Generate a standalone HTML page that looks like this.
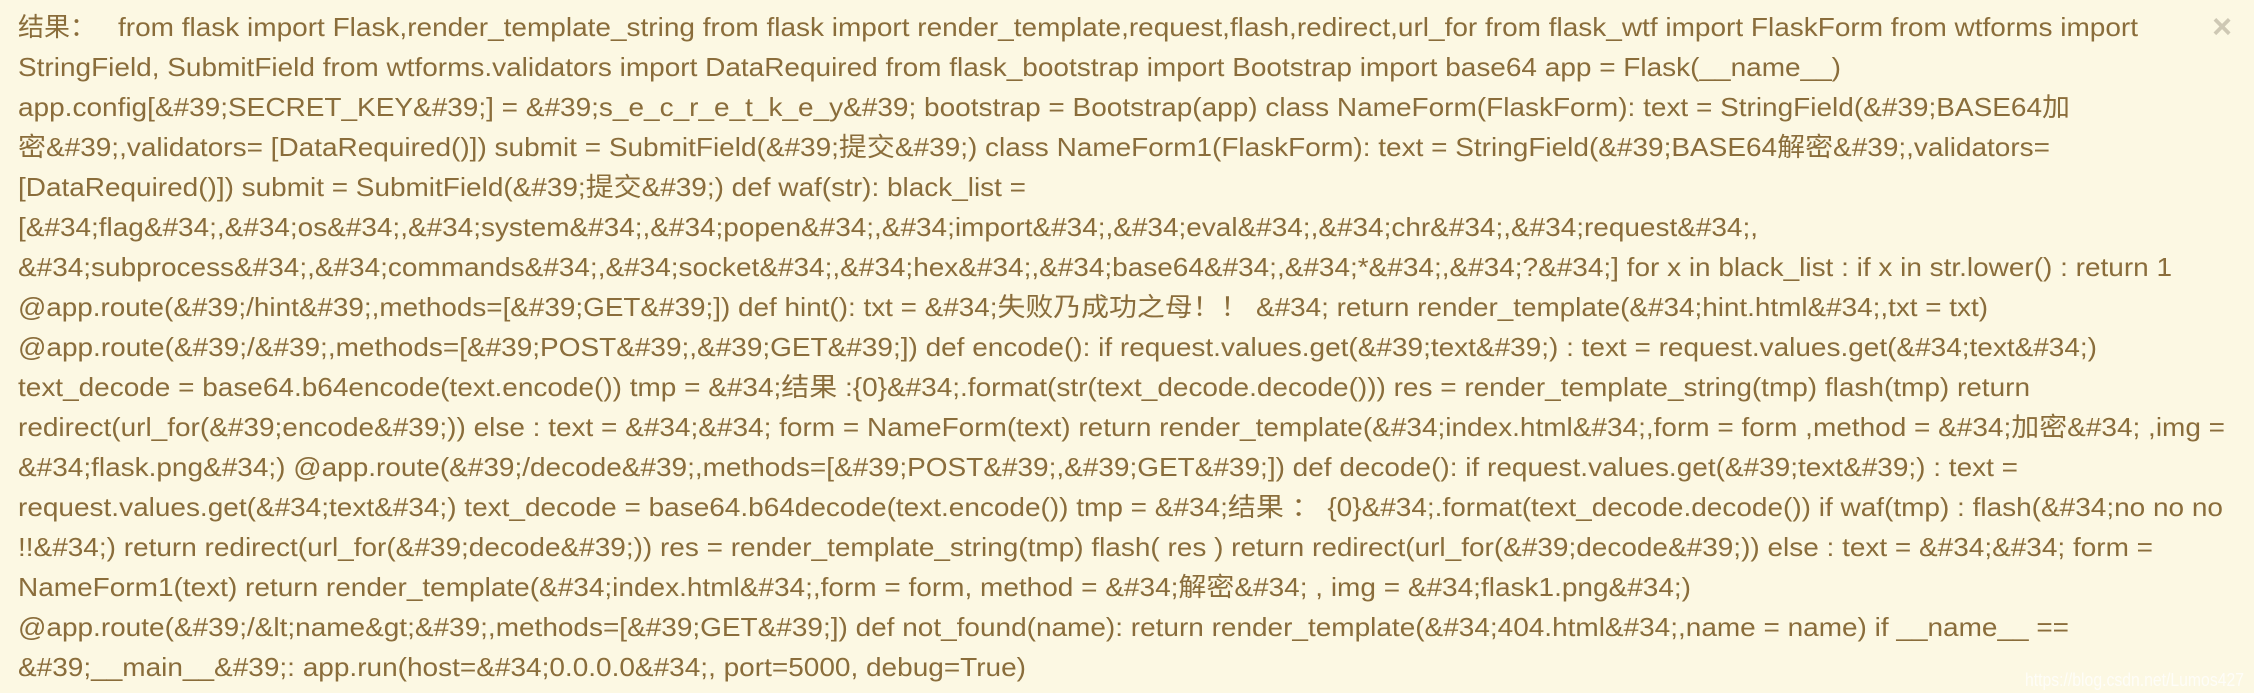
<!DOCTYPE html>
<html><head><meta charset="utf-8"><style>
html,body{margin:0;padding:0;background:#fcf8e3;}
svg{display:block;}
text{font-family:"Liberation Sans","Noto Sans CJK SC",sans-serif;font-size:26px;fill:#8a6d3b;}
</style></head><body>
<svg width="2254" height="693" viewBox="0 0 2254 693" xmlns="http://www.w3.org/2000/svg">
<rect width="2254" height="693" fill="#fcf8e3"/>
<g>
<text x="18" y="36">结果：</text>
<text x="118" y="36" textLength="2020" lengthAdjust="spacingAndGlyphs">from flask import Flask,render_template_string from flask import render_template,request,flash,redirect,url_for from flask_wtf import FlaskForm from wtforms import</text>
<text x="18" y="76" textLength="1823" lengthAdjust="spacingAndGlyphs">StringField, SubmitField from wtforms.validators import DataRequired from flask_bootstrap import Bootstrap import base64 app = Flask(__name__)</text>
<text x="18" y="116" textLength="2052" lengthAdjust="spacingAndGlyphs">app.config[&amp;#39;SECRET_KEY&amp;#39;] = &amp;#39;s_e_c_r_e_t_k_e_y&amp;#39; bootstrap = Bootstrap(app) class NameForm(FlaskForm): text = StringField(&amp;#39;BASE64加</text>
<text x="18" y="156" textLength="2032" lengthAdjust="spacingAndGlyphs">密&amp;#39;,validators= [DataRequired()]) submit = SubmitField(&amp;#39;提交&amp;#39;) class NameForm1(FlaskForm): text = StringField(&amp;#39;BASE64解密&amp;#39;,validators=</text>
<text x="18" y="196" textLength="1008" lengthAdjust="spacingAndGlyphs">[DataRequired()]) submit = SubmitField(&amp;#39;提交&amp;#39;) def waf(str): black_list =</text>
<text x="18" y="236" textLength="1740" lengthAdjust="spacingAndGlyphs">[&amp;#34;flag&amp;#34;,&amp;#34;os&amp;#34;,&amp;#34;system&amp;#34;,&amp;#34;popen&amp;#34;,&amp;#34;import&amp;#34;,&amp;#34;eval&amp;#34;,&amp;#34;chr&amp;#34;,&amp;#34;request&amp;#34;,</text>
<text x="18" y="276" textLength="2154" lengthAdjust="spacingAndGlyphs">&amp;#34;subprocess&amp;#34;,&amp;#34;commands&amp;#34;,&amp;#34;socket&amp;#34;,&amp;#34;hex&amp;#34;,&amp;#34;base64&amp;#34;,&amp;#34;*&amp;#34;,&amp;#34;?&amp;#34;] for x in black_list : if x in str.lower() : return 1</text>
<text x="18" y="316" textLength="1970" lengthAdjust="spacingAndGlyphs">@app.route(&amp;#39;/hint&amp;#39;,methods=[&amp;#39;GET&amp;#39;]) def hint(): txt = &amp;#34;失败乃成功之母！！ &amp;#34; return render_template(&amp;#34;hint.html&amp;#34;,txt = txt)</text>
<text x="18" y="356" textLength="2079" lengthAdjust="spacingAndGlyphs">@app.route(&amp;#39;/&amp;#39;,methods=[&amp;#39;POST&amp;#39;,&amp;#39;GET&amp;#39;]) def encode(): if request.values.get(&amp;#39;text&amp;#39;) : text = request.values.get(&amp;#34;text&amp;#34;)</text>
<text x="18" y="396" textLength="2012" lengthAdjust="spacingAndGlyphs">text_decode = base64.b64encode(text.encode()) tmp = &amp;#34;结果 :{0}&amp;#34;.format(str(text_decode.decode())) res = render_template_string(tmp) flash(tmp) return</text>
<text x="18" y="436" textLength="2207" lengthAdjust="spacingAndGlyphs">redirect(url_for(&amp;#39;encode&amp;#39;)) else : text = &amp;#34;&amp;#34; form = NameForm(text) return render_template(&amp;#34;index.html&amp;#34;,form = form ,method = &amp;#34;加密&amp;#34; ,img =</text>
<text x="18" y="476" textLength="2000" lengthAdjust="spacingAndGlyphs">&amp;#34;flask.png&amp;#34;) @app.route(&amp;#39;/decode&amp;#39;,methods=[&amp;#39;POST&amp;#39;,&amp;#39;GET&amp;#39;]) def decode(): if request.values.get(&amp;#39;text&amp;#39;) : text =</text>
<text x="18" y="516" textLength="2205" lengthAdjust="spacingAndGlyphs">request.values.get(&amp;#34;text&amp;#34;) text_decode = base64.b64decode(text.encode()) tmp = &amp;#34;结果 ： {0}&amp;#34;.format(text_decode.decode()) if waf(tmp) : flash(&amp;#34;no no no</text>
<text x="18" y="556" textLength="2135" lengthAdjust="spacingAndGlyphs">!!&amp;#34;) return redirect(url_for(&amp;#39;decode&amp;#39;)) res = render_template_string(tmp) flash( res ) return redirect(url_for(&amp;#39;decode&amp;#39;)) else : text = &amp;#34;&amp;#34; form =</text>
<text x="18" y="596" textLength="1673" lengthAdjust="spacingAndGlyphs">NameForm1(text) return render_template(&amp;#34;index.html&amp;#34;,form = form, method = &amp;#34;解密&amp;#34; , img = &amp;#34;flask1.png&amp;#34;)</text>
<text x="18" y="636" textLength="2051" lengthAdjust="spacingAndGlyphs">@app.route(&amp;#39;/&amp;lt;name&amp;gt;&amp;#39;,methods=[&amp;#39;GET&amp;#39;]) def not_found(name): return render_template(&amp;#34;404.html&amp;#34;,name = name) if __name__ ==</text>
<text x="18" y="676" textLength="1008" lengthAdjust="spacingAndGlyphs">&amp;#39;__main__&amp;#39;: app.run(host=&amp;#34;0.0.0.0&amp;#34;, port=5000, debug=True)</text>
</g>
<text x="2222" y="38" text-anchor="middle" style="font-size:34px;font-weight:bold;fill:#cec8b4;">×</text>
<text x="2025" y="686" textLength="219" lengthAdjust="spacingAndGlyphs" style="font-size:18px;fill:#ffffff;fill-opacity:0.75;">https://blog.csdn.net/Lumos427</text>
</svg>
</body></html>
